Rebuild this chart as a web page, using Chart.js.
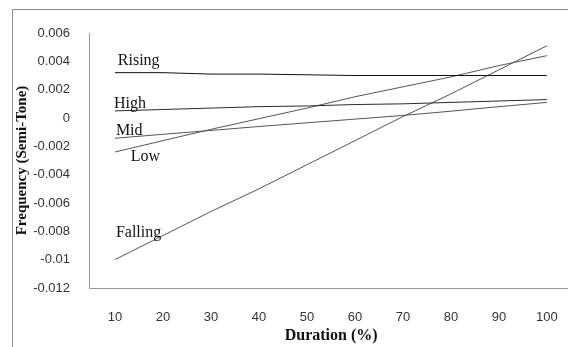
<!DOCTYPE html>
<html lang="en">
  <head>
    <meta charset="UTF-8" />
    <title>Frequency vs duration</title>
    <script src="https://cdn.jsdelivr.net/npm/chart.js"></script>
    <style>
      html, body { margin: 0; padding: 0; background: #fff; overflow: hidden; }
      .wrap { position: relative; width: 580px; height: 347px; }
    </style>
  </head>
  <body>
    <div class="wrap">
      <canvas id="grafico" width="580" height="347"></canvas>
    </div>

    <script>
      // dados
      const duracao = [10, 20, 30, 40, 50, 60, 70, 80, 90, 100];
      const rising = [0.0032, 0.0032, 0.0031, 0.0031, 0.00305, 0.003, 0.003, 0.003, 0.003, 0.003];
      const high = [0.0005, 0.0006, 0.0007, 0.0008, 0.00085, 0.00095, 0.001, 0.0011, 0.0012, 0.0013];
      const mid = [-0.00143, -0.00115, -0.00088, -0.0006, -0.00034, -0.00008, 0.00018, 0.00048, 0.0008, 0.0011];
      const low = [-0.0024, -0.0016, -0.0008, -0.00005, 0.0007, 0.0015, 0.0022, 0.0029, 0.0037, 0.0044];
      const falling = [-0.01, -0.0083, -0.0066, -0.005, -0.0033, -0.0016, 0.0001, 0.0017, 0.0034, 0.0051];
      const yTicks = [0.006, 0.004, 0.002, 0, -0.002, -0.004, -0.006, -0.008, -0.01, -0.012];

      // rotulos das linhas (posicao da linha de base, em unidades dos dados)
      const nomes = ["Rising", "High", "Mid", "Low", "Falling"];
      const nomeX = [10.6, 9.8, 10.2, 13.3, 10.2];
      const nomeY = [0.00375, 0.00071, -0.0012, -0.00304, -0.00841];

      const pontos = (ys) => ys.map((y, i) => ({ x: duracao[i], y: y }));

      const serie = (label, ys, cor) => ({
        label: label,
        data: pontos(ys),
        borderColor: cor,
        borderWidth: 1,
        pointRadius: 0,
        fill: false,
        tension: 0,
      });

      const moldura = {
        id: "moldura",
        beforeDraw(chart) {
          const ctx = chart.ctx;
          ctx.save();
          ctx.strokeStyle = "#8c8c8c";
          ctx.lineWidth = 1;
          ctx.strokeRect(12.5, 9.5, 1000, 1000);
          ctx.restore();
        },
      };

      const rotulos = {
        id: "rotulos",
        afterDatasetsDraw(chart) {
          const ctx = chart.ctx;
          const sx = chart.scales.x;
          const sy = chart.scales.y;
          ctx.save();
          ctx.font = "16px 'Liberation Serif', serif";
          ctx.fillStyle = "#111";
          ctx.textAlign = "left";
          ctx.textBaseline = "alphabetic";
          nomes.forEach((n, i) => {
            ctx.fillText(n, sx.getPixelForValue(nomeX[i]), sy.getPixelForValue(nomeY[i]));
          });
          ctx.restore();
        },
      };

      new Chart(document.getElementById("grafico"), {
        type: "line",
        data: {
          datasets: [
            serie("Rising", rising, "#111"),
            serie("High", high, "#2a2a2a"),
            serie("Mid", mid, "#555"),
            serie("Low", low, "#555"),
            serie("Falling", falling, "#555"),
          ],
        },
        options: {
          responsive: false,
          animation: false,
          layout: { padding: { left: 13, top: 33, right: 4, bottom: 2 } },
          plugins: {
            legend: { display: false },
            tooltip: { enabled: false },
          },
          scales: {
            x: {
              type: "linear",
              min: 4.6,
              max: 105.5,
              afterBuildTicks: (axis) => {
                axis.ticks = duracao.map((v) => ({ value: v }));
              },
              afterFit: (axis) => {
                axis.height = 57;
              },
              grid: { display: false, drawTicks: false },
              border: { display: true, color: "#999" },
              ticks: {
                padding: 22,
                color: "#333",
                font: { family: "'Liberation Sans', Arial", size: 13 },
              },
              title: {
                display: true,
                text: "Duration (%)",
                color: "#111",
                font: { family: "'Liberation Serif', serif", size: 16, weight: "bold" },
                padding: { top: 0, bottom: 0 },
              },
            },
            y: {
              min: -0.012,
              max: 0.006,
              afterBuildTicks: (axis) => {
                axis.ticks = yTicks.map((v) => ({ value: v }));
              },
              afterFit: (axis) => {
                axis.width = 76;
              },
              grid: { display: false, drawTicks: false },
              border: { display: true, color: "#999" },
              ticks: {
                padding: 19,
                color: "#333",
                font: { family: "'Liberation Sans', Arial", size: 13 },
                callback: (v) => String(Number(v.toFixed(3))),
              },
              title: {
                display: true,
                text: "Frequency (Semi-Tone)",
                color: "#111",
                font: { family: "'Liberation Serif', serif", size: 15, weight: "bold" },
                padding: { top: 0, bottom: 0 },
              },
            },
          },
        },
        plugins: [moldura, rotulos],
      });
    </script>
  </body>
</html>
